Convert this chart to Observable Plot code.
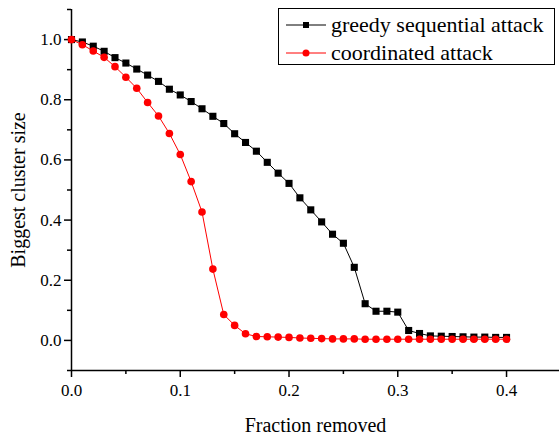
<!DOCTYPE html>
<html>
<head>
<meta charset="utf-8">
<script src="https://cdn.jsdelivr.net/npm/d3@7"></script>
<script src="https://cdn.jsdelivr.net/npm/@observablehq/plot@0.6"></script>
<style>
  body { margin: 0; background: #fff; }
  #wrap { position: relative; width: 559px; height: 436px; font-family: 'Liberation Serif', Tinos, 'Times New Roman', Times, 'DejaVu Serif', serif; }
  #wrap svg text { font-family: 'Liberation Serif', Tinos, 'Times New Roman', Times, 'DejaVu Serif', serif; }
  #legend { position: absolute; left: 278px; top: 8px; width: 275px; height: 55px; border: 1px solid #000; background: #fff; box-sizing: content-box; }
  .row { position: absolute; left: 0; height: 28px; display: flex; align-items: center; font-size: 22px; color: #000; white-space: nowrap; }
  .row svg { margin-left: 7px; margin-right: 5px; }
</style>
</head>
<body>
<div id="wrap"></div>
<script>
const fractions = [0.00,0.01,0.02,0.03,0.04,0.05,0.06,0.07,0.08,0.09,0.10,0.11,0.12,0.13,0.14,0.15,0.16,0.17,0.18,0.19,0.20,0.21,0.22,0.23,0.24,0.25,0.26,0.27,0.28,0.29,0.30,0.31,0.32,0.33,0.34,0.35,0.36,0.37,0.38,0.39,0.40];
const greedy = [1.0,0.992,0.978,0.961,0.940,0.922,0.902,0.882,0.861,0.835,0.816,0.794,0.770,0.745,0.721,0.687,0.658,0.629,0.592,0.556,0.522,0.474,0.434,0.394,0.353,0.323,0.243,0.122,0.097,0.097,0.094,0.033,0.023,0.015,0.014,0.013,0.012,0.011,0.011,0.010,0.010];
const coordinated = [1.0,0.983,0.962,0.941,0.910,0.875,0.838,0.791,0.746,0.688,0.618,0.528,0.427,0.237,0.086,0.050,0.022,0.013,0.012,0.011,0.010,0.008,0.007,0.006,0.005,0.005,0.005,0.004,0.004,0.004,0.004,0.004,0.004,0.004,0.004,0.004,0.004,0.004,0.004,0.004,0.004];
const seriesNames = ["greedy sequential attack", "coordinated attack"];
const xMajor = [0, 0.1, 0.2, 0.3, 0.4];
const xMinor = [0.05, 0.15, 0.25, 0.35, 0.45];
const yMajor = [0, 0.2, 0.4, 0.6, 0.8, 1.0];
const yMinor = [-0.1, 0.1, 0.3, 0.5, 0.7, 0.9, 1.1];
const xTitle = "Fraction removed";
const yTitle = "Biggest cluster size";

const gData = fractions.map((f, i) => ({x: f, y: greedy[i]}));
const cData = fractions.map((f, i) => ({x: f, y: coordinated[i]}));
const fmt = d3.format(".1f");
const serif = "'Liberation Serif', Tinos, 'Times New Roman', Times, 'DejaVu Serif', serif";

const chart = Plot.plot({
  width: 559,
  height: 436,
  marginLeft: 71,
  marginRight: 0,
  marginTop: 9,
  marginBottom: 66,
  style: {fontFamily: serif, color: "#000", background: "#fff"},
  x: {domain: [0, 0.4487]},
  y: {domain: [-0.1, 1.1]},
  marks: [
    Plot.axisX({ticks: xMajor, tickSize: 7, tickPadding: 6, tickFormat: fmt, fontSize: 17, label: null, strokeWidth: 1.5}),
    Plot.axisX({ticks: xMinor, tickSize: 4, tickFormat: () => "", label: null, strokeWidth: 1.5}),
    Plot.axisY({ticks: yMajor, tickSize: 7, tickPadding: 3, tickFormat: fmt, fontSize: 17, label: null, strokeWidth: 1.5}),
    Plot.axisY({ticks: yMinor, tickSize: 4, tickFormat: () => "", label: null, strokeWidth: 1.5}),
    Plot.ruleX([0], {stroke: "#000", strokeWidth: 1.5}),
    Plot.ruleY([-0.1], {stroke: "#000", strokeWidth: 1.5}),
    Plot.text([xTitle], {frameAnchor: "bottom", dy: 61, fontSize: 20, fill: "#000"}),
    Plot.text([yTitle], {frameAnchor: "left", textAnchor: "middle", lineAnchor: "middle", rotate: -90, dx: -53, fontSize: 20, fill: "#000"}),
    Plot.line(gData, {x: "x", y: "y", stroke: "#000", strokeWidth: 1}),
    Plot.dot(gData, {x: "x", y: "y", symbol: "square", r: 4, fill: "#000", stroke: "none"}),
    Plot.line(cData, {x: "x", y: "y", stroke: "#ff0000", strokeWidth: 1}),
    Plot.dot(cData, {x: "x", y: "y", symbol: "circle", r: 3.8, fill: "#ff0000", stroke: "none"})
  ]
});

const wrap = document.getElementById("wrap");
wrap.appendChild(chart);

const legend = document.createElement("div");
legend.id = "legend";
const swatch = (color, shape) => {
  const marker = shape === "square"
    ? `<rect x="17" y="6" width="6" height="6" fill="${color}"/>`
    : `<circle cx="20" cy="9" r="3.5" fill="${color}"/>`;
  return `<svg width="40" height="18"><line x1="0" x2="40" y1="9" y2="9" stroke="${color}" stroke-width="1"/>${marker}</svg>`;
};
legend.innerHTML =
  `<div class="row" style="top:2px">${swatch("#000", "square")}<span>${seriesNames[0]}</span></div>` +
  `<div class="row" style="top:30px">${swatch("#ff0000", "circle")}<span>${seriesNames[1]}</span></div>`;
wrap.appendChild(legend);
</script>
</body>
</html>
